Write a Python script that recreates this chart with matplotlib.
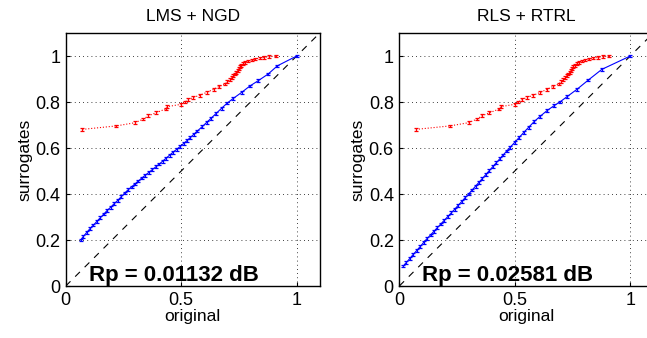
import numpy as np
import matplotlib
matplotlib.use("Agg")
import matplotlib.pyplot as plt

plt.rcParams['font.family'] = ['Liberation Sans', 'DejaVu Sans']

# datos
titulos = ["LMS + NGD", "RLS + RTRL"]
textos_rp = ["Rp = 0.01132 dB", "Rp = 0.02581 dB"]

# curva roja (original), igual en ambos paneles
rojo_x = [0.072, 0.218, 0.300, 0.336, 0.358, 0.390, 0.433, 0.440,
          0.500, 0.516, 0.530, 0.552, 0.580, 0.610, 0.640, 0.665, 0.690, 0.700,
          0.710, 0.718, 0.725, 0.732, 0.738, 0.744, 0.749, 0.754, 0.760, 0.768,
          0.778, 0.790, 0.805, 0.820, 0.840, 0.860, 0.880, 0.910]
rojo_y = [0.681, 0.696, 0.710, 0.726, 0.740, 0.753, 0.770, 0.780,
          0.790, 0.800, 0.810, 0.820, 0.829, 0.842, 0.855, 0.868, 0.878, 0.888,
          0.897, 0.906, 0.914, 0.922, 0.930, 0.938, 0.946, 0.953, 0.960, 0.966,
          0.972, 0.978, 0.983, 0.987, 0.991, 0.994, 0.997, 1.000]

# curva azul (surrogates) LMS + NGD
azul1_x = [0.065, 0.075, 0.090, 0.105, 0.120, 0.135, 0.150, 0.165, 0.180, 0.195,
           0.210, 0.225, 0.240, 0.255, 0.270, 0.285, 0.300, 0.315, 0.330, 0.345,
           0.360, 0.375, 0.390, 0.405, 0.420, 0.435, 0.450, 0.465, 0.480, 0.495,
           0.510, 0.525, 0.540, 0.555, 0.570, 0.590, 0.610, 0.630, 0.650, 0.675,
           0.700, 0.726, 0.762, 0.798, 0.834, 0.877, 0.916, 1.000]
azul1_y = [0.200, 0.214, 0.232, 0.249, 0.265, 0.281, 0.297, 0.313, 0.329, 0.343,
           0.358, 0.372, 0.388, 0.404, 0.418, 0.431, 0.444, 0.457, 0.470, 0.482,
           0.494, 0.506, 0.518, 0.530, 0.543, 0.556, 0.569, 0.582, 0.594, 0.606,
           0.619, 0.632, 0.646, 0.660, 0.674, 0.692, 0.711, 0.730, 0.749, 0.773,
           0.796, 0.816, 0.842, 0.870, 0.893, 0.922, 0.957, 1.000]

# curva azul RLS + RTRL
azul2_x = [0.017, 0.030, 0.045, 0.060, 0.075, 0.090, 0.105, 0.120, 0.135, 0.150,
           0.165, 0.180, 0.195, 0.210, 0.225, 0.240, 0.255, 0.270, 0.285, 0.300,
           0.315, 0.330, 0.345, 0.360, 0.375, 0.390, 0.405, 0.420, 0.435, 0.450,
           0.465, 0.480, 0.500, 0.520, 0.540, 0.560, 0.585, 0.610, 0.640, 0.670,
           0.695, 0.726, 0.769, 0.819, 0.877, 1.000]
azul2_y = [0.087, 0.102, 0.119, 0.137, 0.154, 0.171, 0.189, 0.206, 0.222, 0.238,
           0.254, 0.270, 0.286, 0.302, 0.318, 0.334, 0.351, 0.367, 0.384, 0.400,
           0.417, 0.434, 0.451, 0.468, 0.485, 0.502, 0.519, 0.536, 0.553, 0.570,
           0.587, 0.603, 0.625, 0.647, 0.669, 0.690, 0.716, 0.738, 0.763, 0.784,
           0.800, 0.823, 0.855, 0.896, 0.942, 1.000]

error_barra = 0.006
azules = [(azul1_x, azul1_y), (azul2_x, azul2_y)]

fig = plt.figure(figsize=(6.47, 3.38), dpi=100)
izquierdas = [0.1016, 0.6172]

for i in range(2):
    ax = fig.add_axes([izquierdas[i], 0.1538, 0.3926, 0.7485])
    ax.plot([0, 1.1], [0, 1.1], color="k", ls=(0, (6, 6)), lw=0.8)
    ax.errorbar(rojo_x, rojo_y, yerr=error_barra, fmt=":", color="r",
                lw=0.8, elinewidth=0.9, capsize=1.6, capthick=0.9)
    bx, by = azules[i]
    ax.errorbar(bx, by, yerr=error_barra, fmt="-", color="b",
                lw=0.8, elinewidth=0.9, capsize=1.6, capthick=0.9)
    ax.set_xlim(0, 1.1)
    ax.set_ylim(0, 1.1)
    ax.set_xticks([0, 0.5, 1])
    ax.set_xticklabels(["0", "0.5", "1"])
    ax.set_yticks([0, 0.2, 0.4, 0.6, 0.8, 1])
    ax.set_yticklabels(["0", "0.2", "0.4", "0.6", "0.8", "1"])
    ax.grid(True, color="k", ls=(0, (1, 4)), lw=0.6)
    ax.tick_params(direction="in", length=3, labelsize=13, pad=4)
    for sp in ax.spines.values():
        sp.set_linewidth(1.0)
    ax.set_title(titulos[i], fontsize=12.5, pad=9)
    ax.set_xlabel("original", fontsize=12.5, labelpad=0)
    ax.set_ylabel("surrogates", fontsize=12.5, labelpad=2)
    ax.text(0.1, 0.02, textos_rp[i], fontsize=16, fontweight="bold",
            ha="left", va="baseline")

fig.savefig("out.png", dpi=100)
